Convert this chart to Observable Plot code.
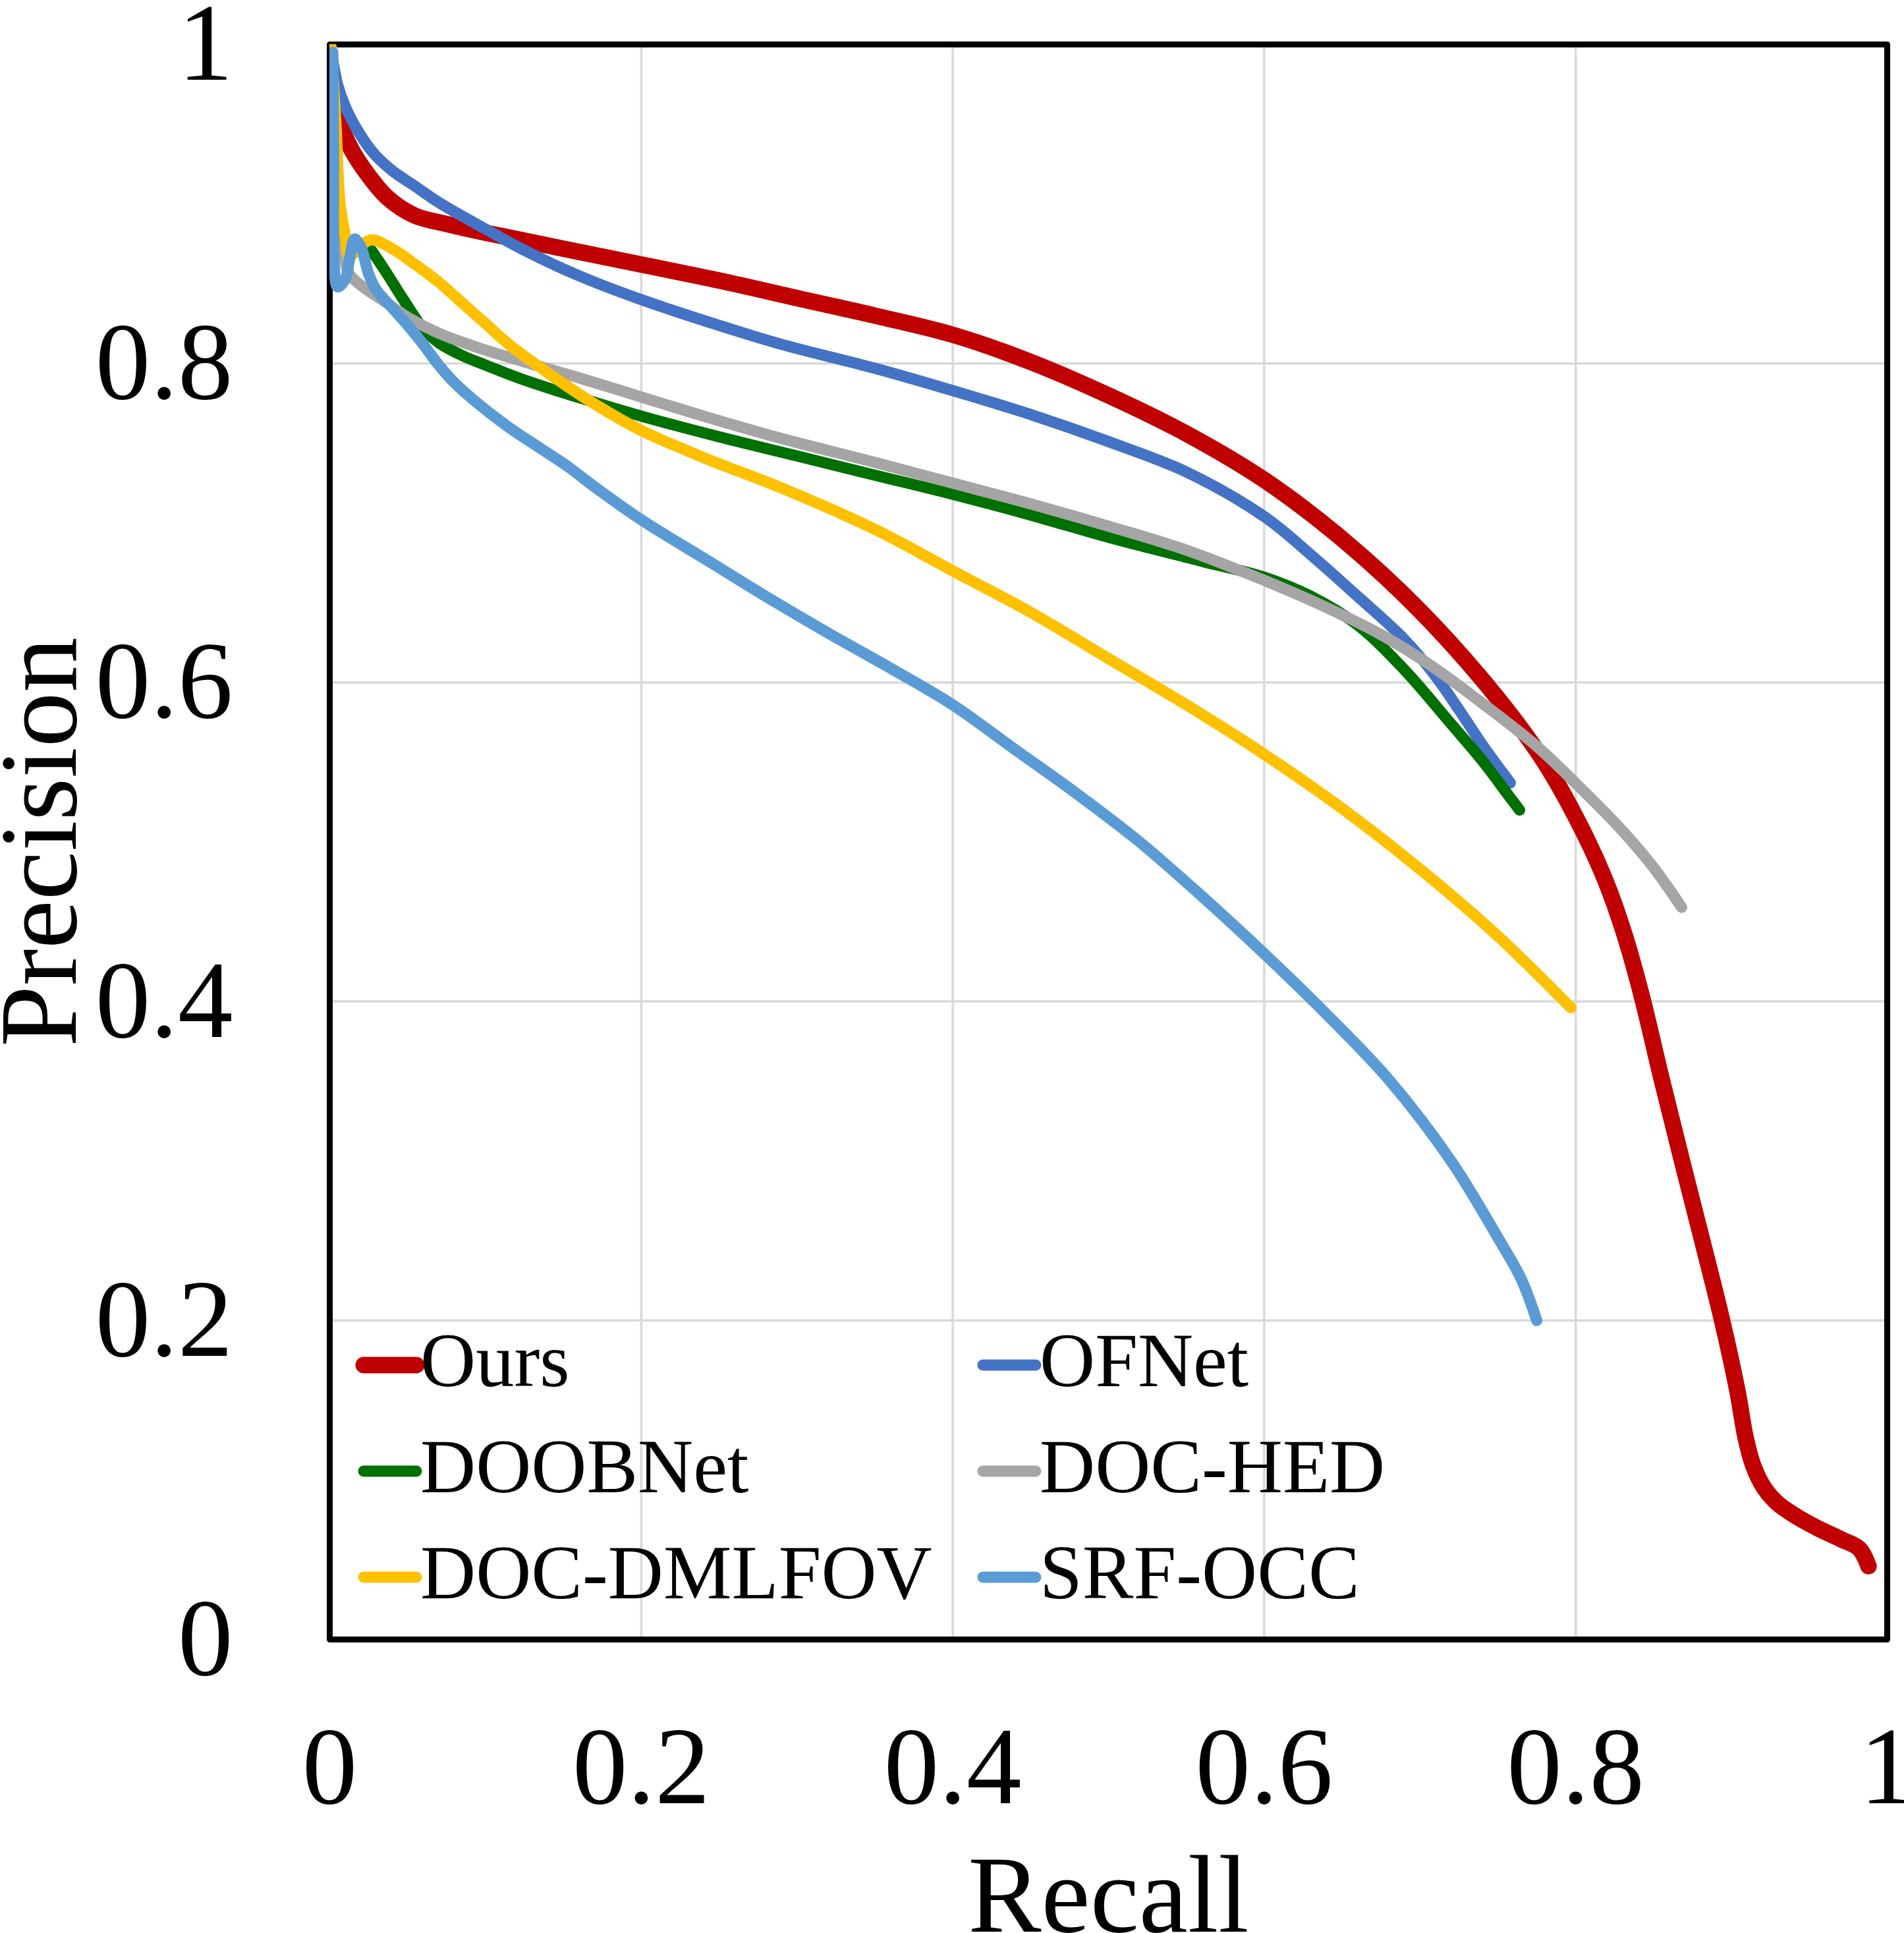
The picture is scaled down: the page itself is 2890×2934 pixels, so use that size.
<!DOCTYPE html>
<html>
<head>
<meta charset="utf-8">
<script src="https://cdn.jsdelivr.net/npm/d3@7"></script>
<script src="https://cdn.jsdelivr.net/npm/@observablehq/plot@0.6"></script>
<style>
  html, body { margin: 0; padding: 0; background: #ffffff; }
  #chart svg { display: block; }
</style>
</head>
<body>
<div id="chart"></div>
<script>
// Precision–recall curves: each series is a list of [recall, precision] points.
const methods = ["Ours", "OFNet", "DOOBNet", "DOC-HED", "DOC-DMLFOV", "SRF-OCC"];

const ours = [
  [0.003, 0.965], [0.006, 0.952], [0.014, 0.934], [0.024, 0.919], [0.037, 0.904],
  [0.054, 0.893], [0.077, 0.887], [0.100, 0.882], [0.150, 0.872], [0.200, 0.862],
  [0.250, 0.852], [0.300, 0.841], [0.350, 0.830], [0.400, 0.818], [0.450, 0.801],
  [0.500, 0.780], [0.550, 0.756], [0.600, 0.727], [0.650, 0.690], [0.700, 0.645],
  [0.750, 0.590], [0.780, 0.550], [0.803, 0.510], [0.819, 0.476], [0.831, 0.443],
  [0.842, 0.405], [0.855, 0.352], [0.868, 0.301], [0.881, 0.251], [0.894, 0.200],
  [0.904, 0.155], [0.909, 0.127], [0.914, 0.109], [0.921, 0.095], [0.930, 0.085],
  [0.942, 0.077], [0.955, 0.070], [0.970, 0.063], [0.982, 0.057], [0.988, 0.046]
];

const ofnet = [
  [0.002, 0.990], [0.005, 0.975], [0.010, 0.961], [0.018, 0.946], [0.028, 0.932],
  [0.040, 0.921], [0.055, 0.911], [0.070, 0.901], [0.095, 0.887], [0.125, 0.871],
  [0.160, 0.855], [0.200, 0.840], [0.240, 0.827], [0.290, 0.812], [0.350, 0.797],
  [0.400, 0.783], [0.450, 0.768], [0.500, 0.751], [0.550, 0.732], [0.600, 0.704],
  [0.630, 0.680], [0.660, 0.654], [0.690, 0.627], [0.710, 0.604], [0.725, 0.583],
  [0.740, 0.561], [0.758, 0.537]
];

const doobnet = [
  [0.026, 0.872], [0.035, 0.859], [0.048, 0.839], [0.060, 0.822], [0.070, 0.813],
  [0.085, 0.805], [0.100, 0.799], [0.124, 0.790], [0.162, 0.778], [0.200, 0.767],
  [0.250, 0.754], [0.300, 0.742], [0.350, 0.730], [0.400, 0.718], [0.450, 0.705],
  [0.500, 0.691], [0.560, 0.676], [0.600, 0.666], [0.630, 0.654], [0.660, 0.636],
  [0.690, 0.608], [0.720, 0.574], [0.740, 0.551], [0.757, 0.529], [0.764, 0.520]
];

const docHed = [
  [0.001, 0.990], [0.003, 0.950], [0.005, 0.920], [0.008, 0.880], [0.012, 0.857],
  [0.020, 0.849], [0.035, 0.839], [0.050, 0.829], [0.070, 0.819], [0.095, 0.810],
  [0.125, 0.801], [0.160, 0.791], [0.200, 0.779], [0.240, 0.767], [0.290, 0.753],
  [0.350, 0.738], [0.400, 0.725], [0.450, 0.712], [0.500, 0.698], [0.550, 0.683],
  [0.600, 0.664], [0.640, 0.647], [0.675, 0.630], [0.708, 0.610], [0.740, 0.587],
  [0.775, 0.560], [0.805, 0.532], [0.830, 0.507], [0.850, 0.484], [0.868, 0.459]
];

const docDmlfov = [
  [0.001, 0.998], [0.004, 0.950], [0.0066, 0.900], [0.010, 0.880], [0.0125, 0.867],
  [0.020, 0.874], [0.027, 0.8775], [0.040, 0.872], [0.055, 0.862], [0.070, 0.851],
  [0.085, 0.838], [0.100, 0.825], [0.115, 0.812], [0.133, 0.799], [0.152, 0.786],
  [0.171, 0.774], [0.200, 0.758], [0.240, 0.741], [0.290, 0.722], [0.350, 0.696],
  [0.400, 0.670], [0.450, 0.644], [0.500, 0.615], [0.550, 0.586], [0.600, 0.555],
  [0.650, 0.521], [0.700, 0.483], [0.750, 0.441], [0.797, 0.396]
];

const srfOcc = [
  [0.002, 0.995], [0.0025, 0.930], [0.003, 0.860], [0.005, 0.848], [0.010, 0.853],
  [0.013, 0.867], [0.016, 0.878], [0.020, 0.873], [0.025, 0.856], [0.030, 0.846],
  [0.040, 0.835], [0.050, 0.824], [0.060, 0.812], [0.070, 0.799], [0.080, 0.788],
  [0.095, 0.775], [0.115, 0.760], [0.135, 0.747], [0.152, 0.736], [0.171, 0.722],
  [0.200, 0.702], [0.240, 0.678], [0.280, 0.654], [0.320, 0.631], [0.360, 0.609],
  [0.400, 0.586], [0.440, 0.558], [0.480, 0.530], [0.520, 0.500], [0.560, 0.466],
  [0.600, 0.430], [0.640, 0.392], [0.680, 0.351], [0.720, 0.300], [0.750, 0.252],
  [0.765, 0.226], [0.775, 0.200]
];

const seriesPoints = [ours, ofnet, doobnet, docHed, docDmlfov, srfOcc];

// Tick values shared by both axes.
const recallTicks = [0, 0.2, 0.4, 0.6, 0.8, 1];
const precisionTicks = [0, 0.2, 0.4, 0.6, 0.8, 1];

// Styling.
const palette = ["#C00000", "#4472C4", "#007000", "#A5A5A5", "#FFC000", "#5B9BD5"];
const serif = "'Liberation Serif', 'Times New Roman', serif";
const W = 2890, H = 2934;
const M = {top: 67, right: 26, bottom: 446, left: 500};
const widthFor = i => (i === 0 ? 25 : 17);

// Long-form table built from the series arrays.
const rows = methods.flatMap((method, i) =>
  seriesPoints[i].map(([recall, precision]) => ({method, recall, precision}))
);

const fmt = d => (d === 0 || d === 1) ? String(d) : d.toFixed(1);

// Drawn in series order so later curves sit on top of earlier ones.
const lineMarks = methods.map((m, i) =>
  Plot.line(rows.filter(d => d.method === m), {
    x: "recall",
    y: "precision",
    stroke: "method",
    strokeWidth: widthFor(i),
    strokeLinecap: "round",
    strokeLinejoin: "round",
    curve: "catmull-rom",
    clip: "frame"
  })
);

const chart = Plot.plot({
  width: W,
  height: H,
  marginTop: M.top,
  marginRight: M.right,
  marginBottom: M.bottom,
  marginLeft: M.left,
  style: {fontFamily: serif, fontSize: "167px", background: "#ffffff", color: "#000000"},
  x: {domain: [0, 1]},
  y: {domain: [0, 1]},
  color: {domain: methods, range: palette},
  marks: [
    Plot.gridX(recallTicks, {stroke: "#D9D9D9", strokeWidth: 3.5, strokeOpacity: 1}),
    Plot.gridY(precisionTicks, {stroke: "#D9D9D9", strokeWidth: 3.5, strokeOpacity: 1}),
    Plot.frame({stroke: "#000000", strokeWidth: 9, strokeLinejoin: "round"}),
    ...lineMarks,
    Plot.axisX(recallTicks, {tickSize: 0, tickPadding: 130, tickFormat: fmt, label: null, fontSize: 167}),
    Plot.axisY(precisionTicks, {tickSize: 0, tickPadding: 147, tickFormat: fmt, label: null, fontSize: 167}),
    Plot.text(["Recall"], {
      text: d => d, frameAnchor: "bottom", textAnchor: "middle",
      lineAnchor: "top", dy: 325, fontSize: 167
    }),
    Plot.text(["Precision"], {
      text: d => d, frameAnchor: "left", textAnchor: "middle", rotate: -90,
      lineAnchor: "top", dx: -504, fontSize: 167
    })
  ]
});

// In-plot legend: two columns, three rows, line swatch followed by the name.
const color = chart.scale("color");
const legend = {
  x0: M.left + 92,          // swatch centre of the first column
  colGap: 940,
  yLast: H - M.bottom - 94, // swatch centre of the bottom row
  rowGap: 161,
  half: 40,
  textGap: 46,
  baseline: 32,
  fontSize: 116.5
};
const nRows = Math.ceil(methods.length / 2);
const svg = d3.select(chart);
const lg = svg.append("g")
  .attr("font-family", serif)
  .attr("font-size", legend.fontSize)
  .attr("text-anchor", "start");
methods.forEach((m, i) => {
  const col = i % 2, row = Math.floor(i / 2);
  const cx = legend.x0 + col * legend.colGap;
  const cy = legend.yLast - (nRows - 1 - row) * legend.rowGap;
  lg.append("line")
    .attr("x1", cx - legend.half).attr("x2", cx + legend.half)
    .attr("y1", cy).attr("y2", cy)
    .attr("stroke", color.apply(m))
    .attr("stroke-width", widthFor(i))
    .attr("stroke-linecap", "round");
  lg.append("text")
    .attr("x", cx + legend.textGap)
    .attr("y", cy + legend.baseline)
    .attr("text-anchor", "start")
    .attr("fill", "#000000")
    .text(m);
});

document.getElementById("chart").appendChild(chart);
</script>
</body>
</html>
